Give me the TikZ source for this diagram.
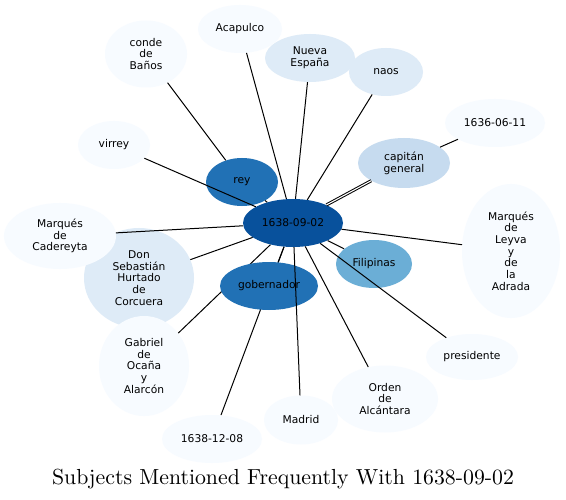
\documentclass[tikz,border=0pt]{standalone}
\usepackage{fontspec}
\newfontfamily\nodefont{DejaVu Sans}
\newfontfamily\titlefont{lmroman10-regular}[Extension=.otf]
\usetikzlibrary{shapes.geometric}
\definecolor{cA}{HTML}{08519C}
\definecolor{cB}{HTML}{2171B5}
\definecolor{cC}{HTML}{6BAED6}
\definecolor{cD}{HTML}{C6DBEF}
\definecolor{cE}{HTML}{DEEBF7}
\definecolor{cF}{HTML}{F7FBFF}
\pgfdeclarelayer{bgfill}
\pgfdeclarelayer{under}
\pgfsetlayers{bgfill,under,main}
\tikzset{
  nd/.style={ellipse, inner sep=0pt, align=center, draw=none, text=black,
    font=\nodefont\fontsize{10.7bp}{11.7bp}\selectfont},
  sz/.style 2 args={minimum width=#1bp, minimum height=#2bp},
  edge/.style={draw=black, line width=1bp},
  dbl/.style={edge, double, double distance=1.1bp}
}
\begin{document}
\begin{tikzpicture}[x=1bp,y=-1bp]
\begin{pgfonlayer}{bgfill}
\fill[white] (0,0) rectangle (566,500);
\end{pgfonlayer}
\useasboundingbox (0,0) rectangle (566,500);
% nodes
\node[nd, sz={110}{100}, fill=cE] (don) at (139,278) {Don\\Sebastián\\Hurtado\\de\\Corcuera};
\node[nd, sz={112}{66}, fill=cF] (cad) at (60,236) {Marqués\\de\\Cadereyta};
\node[nd, sz={90}{100}, fill=cF] (gab) at (144,366) {Gabriel\\de\\Ocaña\\y\\Alarcón};
\node[nd, sz={100}{48}, fill=cA] (c) at (293,223) {1638-09-02};
\node[nd, sz={72}{48}, fill=cB] (rey) at (242,182) {rey};
\node[nd, sz={98}{48}, fill=cB] (gob) at (269,286) {gobernador};
\node[nd, sz={76}{48}, fill=cC] (fil) at (374,264) {Filipinas};
\node[nd, sz={92}{50}, fill=cD] (cap) at (404,163) {capitán\\general};
\node[nd, sz={90}{48}, fill=cE] (nue) at (310,58) {Nueva\\España};
\node[nd, sz={74}{48}, fill=cE] (naos) at (386,72) {naos};
\node[nd, sz={84}{48}, fill=cF] (aca) at (240,29) {Acapulco};
\node[nd, sz={82}{67}, fill=cF] (conde) at (146,54) {conde\\de\\Baños};
\node[nd, sz={72}{48}, fill=cF] (vir) at (114,145) {virrey};
\node[nd, sz={100}{48}, fill=cF] (d36) at (495,123) {1636-06-11};
\node[nd, sz={98}{134}, fill=cF] (ley) at (511,251) {Marqués\\de\\Leyva\\y\\de\\la\\Adrada};
\node[nd, sz={92}{46}, fill=cF] (pre) at (472,357) {presidente};
\node[nd, sz={106}{67}, fill=cF] (ord) at (385,399) {Orden\\de\\Alcántara};
\node[nd, sz={74}{49}, fill=cF] (mad) at (301,420) {Madrid};
\node[nd, sz={100}{48}, fill=cF] (d12) at (212,439) {1638-12-08};
% edges under nodes
\begin{pgfonlayer}{under}
\draw[edge] (c) -- (gab);
\draw[edge] (c) -- (d12);
\draw[edge] (c) -- (gob);
\end{pgfonlayer}
% edges over nodes
\draw[edge] (c) -- (aca);
\draw[edge] (c) -- (nue);
\draw[edge] (c) -- (naos);
\draw[edge] (rey) -- (conde);
\draw[edge] (c) -- (rey);
\draw[edge] (c) -- (vir);
\draw[dbl] (c) -- (cap);
\draw[edge] (cap) -- (d36);
\draw[edge] (c) -- (ley);
\draw[edge] (c) -- (fil);
\draw[edge] (c) -- (pre);
\draw[edge] (c) -- (ord);
\draw[edge] (c) -- (mad);
\draw[edge] (c) -- (cad);
\draw[edge] (c) -- (don);
% title
\node[anchor=base, inner sep=0pt, font=\titlefont\fontsize{21.8bp}{24bp}\selectfont] (title) at (283,484) {Subjects Mentioned Frequently With 1638-09-02};
\end{tikzpicture}
\end{document}
